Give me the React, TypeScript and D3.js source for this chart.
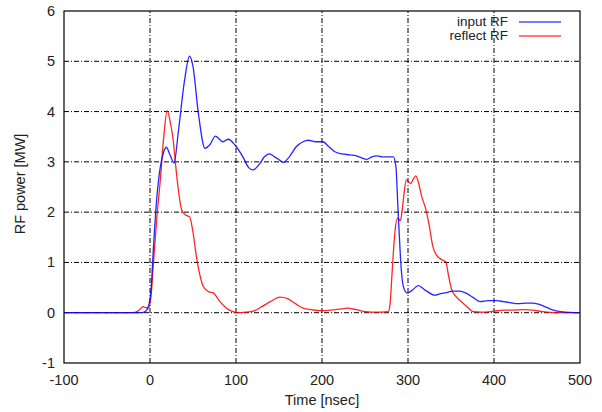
import React, { useEffect, useRef } from "react";
import * as d3 from "d3";

// time [nsec] / power [MW]
const inputT = [-100, -20, -10, -5, -2, 1, 4, 8, 12, 16, 19, 23, 28, 33, 40, 46, 50, 56, 64, 70, 76, 85, 91, 99, 108, 115, 120, 127, 133, 139, 145, 151, 155, 162, 170, 178, 184, 192, 201, 208, 215, 223, 232, 240, 246, 252, 258, 264, 270, 278, 283, 286, 288, 290, 292, 295, 299, 305, 312, 320, 331, 338, 345, 352, 360, 368, 376, 384, 393, 403, 411, 419, 428, 437, 446, 455, 462, 469, 478, 488, 500];
const inputP = [0, 0, 0, 0.03, 0.12, 0.4, 1.3, 2.3, 2.9, 3.2, 3.29, 3.15, 2.98, 3.6, 4.6, 5.1, 4.9, 4.0, 3.27, 3.35, 3.51, 3.4, 3.45, 3.33, 3.1, 2.88, 2.84, 2.95, 3.1, 3.16, 3.1, 3.03, 2.99, 3.1, 3.3, 3.4, 3.43, 3.4, 3.4, 3.3, 3.2, 3.16, 3.14, 3.12, 3.08, 3.05, 3.1, 3.12, 3.1, 3.1, 3.1, 2.9, 2.2, 1.5, 0.9, 0.5, 0.39, 0.45, 0.54, 0.45, 0.35, 0.38, 0.4, 0.43, 0.43, 0.385, 0.3, 0.22, 0.24, 0.24, 0.22, 0.2, 0.18, 0.19, 0.19, 0.15, 0.1, 0.05, 0.02, 0.005, 0];

const reflectT = [-100, -20, -15, -11, -8, -5, -2, 1, 4, 8, 12, 16, 20, 24, 27, 30, 33, 36, 39, 43, 46, 50, 54, 58, 62, 68, 74, 80, 89, 95, 101, 110, 120, 130, 140, 151, 160, 170, 178, 188, 198, 210, 220, 229, 240, 250, 258, 268, 277, 279, 281, 283, 285, 288, 291, 293, 295, 298, 301, 303, 306, 309, 312, 316, 321, 325, 329, 333, 337, 341, 344, 347, 351, 357, 364, 370, 376, 385, 400, 411, 422, 434, 445, 457, 470, 500];
const reflectP = [0, 0, 0.02, 0.08, 0.12, 0.1, 0.09, 0.3, 0.98, 1.9, 2.64, 3.5, 4.02, 3.75, 3.43, 2.9, 2.44, 2.1, 1.98, 1.93, 1.91, 1.6, 1.11, 0.75, 0.52, 0.42, 0.39, 0.25, 0.09, 0.03, 0, 0.01, 0.03, 0.12, 0.22, 0.31, 0.28, 0.17, 0.09, 0.06, 0.04, 0.05, 0.07, 0.09, 0.06, 0.02, 0.01, 0.01, 0.02, 0.15, 0.65, 1.2, 1.64, 1.88, 1.83, 2.0, 2.31, 2.64, 2.6, 2.57, 2.65, 2.72, 2.6, 2.31, 2.04, 1.7, 1.31, 1.15, 1.08, 1.04, 1.01, 0.75, 0.45, 0.3, 0.19, 0.1, 0.02, 0.01, 0.03, 0.05, 0.05, 0.06, 0.05, 0.02, 0, 0];

const xTicks = [-100, 0, 100, 200, 300, 400, 500];
const yTicks = [-1, 0, 1, 2, 3, 4, 5, 6];

const seriesNames = ["input RF", "reflect RF"];
const seriesColors = ["#0000ff", "#ff0000"];

const W = 602;
const H = 412;
const margin = { left: 64, right: 22, top: 11, bottom: 49 };

export default function App() {
  const ref = useRef<SVGSVGElement>(null);

  useEffect(() => {
    const svg = d3.select(ref.current);
    svg.selectAll("*").remove();

    const x = d3.scaleLinear().domain([-100, 500]).range([margin.left, W - margin.right]);
    const y = d3.scaleLinear().domain([-1, 6]).range([H - margin.bottom, margin.top]);
    const font = "'Liberation Sans', Arial, sans-serif";

    // grid lines (dash-dot), skip the borders
    const g = svg.append("g");
    g.selectAll("line.gx")
      .data(xTicks.filter(t => t > -100 && t < 500))
      .enter().append("line")
      .attr("x1", d => x(d)).attr("x2", d => x(d))
      .attr("y1", y(-1)).attr("y2", y(6))
      .attr("stroke", "#000").attr("stroke-width", 1)
      .attr("stroke-dasharray", "5,2,1,2");
    g.selectAll("line.gy")
      .data(yTicks.filter(t => t > -1 && t < 6))
      .enter().append("line")
      .attr("x1", x(-100)).attr("x2", x(500))
      .attr("y1", d => y(d)).attr("y2", d => y(d))
      .attr("stroke", "#000").attr("stroke-width", 1)
      .attr("stroke-dasharray", "5,2,1,2");

    // curves
    const line = d3.line<[number, number]>()
      .x(d => x(d[0]))
      .y(d => y(d[1]))
      .curve(d3.curveMonotoneX);

    const series: [number, number][][] = [
      inputT.map((t, i) => [t, inputP[i]]),
      reflectT.map((t, i) => [t, reflectP[i]]),
    ];
    // draw reflect first so the flat baseline shows blend like the original
    [1, 0].forEach(i => {
      svg.append("path")
        .datum(series[i])
        .attr("d", line)
        .attr("fill", "none")
        .attr("stroke", seriesColors[i])
        .attr("stroke-width", 1.3)
        .attr("stroke-opacity", 0.85);
    });

    // frame
    svg.append("rect")
      .attr("x", x(-100)).attr("y", y(6))
      .attr("width", x(500) - x(-100)).attr("height", y(-1) - y(6))
      .attr("fill", "none").attr("stroke", "#000").attr("stroke-width", 1.2);

    // tick labels
    svg.selectAll("text.xt")
      .data(xTicks)
      .enter().append("text")
      .attr("x", d => x(d)).attr("y", 385)
      .attr("text-anchor", "middle")
      .style("font-family", font).style("font-size", "14.5px")
      .attr("fill", "#222")
      .text(d => d);
    svg.selectAll("text.yt")
      .data(yTicks)
      .enter().append("text")
      .attr("x", 55).attr("y", d => y(d) + 5)
      .attr("text-anchor", "end")
      .style("font-family", font).style("font-size", "14.5px")
      .attr("fill", "#222")
      .text(d => d);

    // axis titles
    svg.append("text")
      .attr("x", 322).attr("y", 405)
      .attr("text-anchor", "middle")
      .style("font-family", font).style("font-size", "14.5px")
      .attr("fill", "#222")
      .text("Time [nsec]");
    svg.append("text")
      .attr("transform", "translate(25,184) rotate(-90)")
      .attr("text-anchor", "middle")
      .style("font-family", font).style("font-size", "14.5px")
      .attr("fill", "#222")
      .text("RF power [MW]");

    // legend
    seriesNames.forEach((name, i) => {
      const ly = 22 + i * 14;
      svg.append("text")
        .attr("x", 508).attr("y", ly + 4)
        .attr("text-anchor", "end")
        .style("font-family", font).style("font-size", "13.5px")
        .attr("fill", "#222")
        .text(name);
      svg.append("line")
        .attr("x1", 519).attr("x2", 561)
        .attr("y1", ly).attr("y2", ly)
        .attr("stroke", seriesColors[i]).attr("stroke-width", 1.3)
        .attr("stroke-opacity", 0.7);
    });
  }, []);

  return (
    <svg
      ref={ref}
      width={W}
      height={H}
      style={{ position: "absolute", left: 0, top: 0, background: "#fff" }}
    />
  );
}
